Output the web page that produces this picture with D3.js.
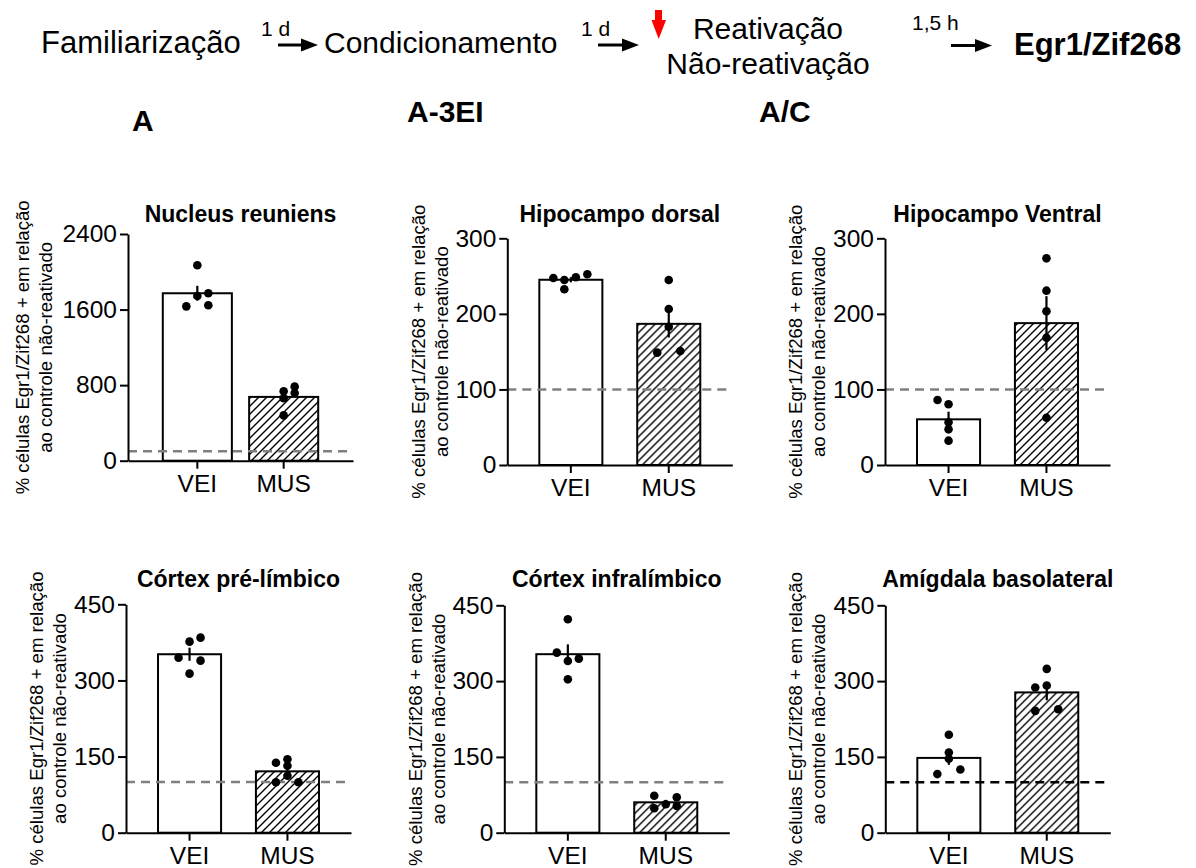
<!DOCTYPE html>
<html>
<head>
<meta charset="utf-8">
<script src="https://cdn.jsdelivr.net/npm/d3@7"></script>
<style>
  body { margin: 0; background: #fff; }
  svg { display: block; }
  text { font-family: "Liberation Sans", Arial, sans-serif; fill: #000; }
</style>
</head>
<body>
<svg id="chart" width="1196" height="868"></svg>
<script>
// ---- data ----
const groups = ["VEI", "MUS"];
const regions = ["Nucleus reuniens", "Hipocampo dorsal", "Hipocampo Ventral",
                 "Córtex pré-límbico", "Córtex infralímbico", "Amígdala basolateral"];
const yMax = [2400, 300, 300, 450, 450, 450];
const yTicks = [
  [0, 800, 1600, 2400], [0, 100, 200, 300], [0, 100, 200, 300],
  [0, 150, 300, 450], [0, 150, 300, 450], [0, 150, 300, 450]
];
const veiValues = [
  [2069, 1634, 1772, 1743, 1645],
  [247.5, 244.9, 248.4, 252.4, 232.5],
  [86, 80.3, 56.5, 47.2, 32.2],
  [376.4, 384.3, 344.9, 339, 313.4],
  [422.3, 356.3, 339.8, 344.4, 303.5],
  [193.7, 158.8, 146.3, 125.2, 116]
];
const musValues = [
  [735, 661, 784, 717, 480],
  [244.9, 206.5, 183, 148.7, 150.9],
  [273.5, 230.7, 203.4, 168.5, 62.6],
  [137.9, 144.6, 132, 99.3, 112.3, 99.3],
  [73.2, 48.3, 56.2, 70.1, 52.8],
  [324.2, 287.3, 291.2, 241.1, 244.4]
];
const controlLevel = 100; // não-reativado = 100 %

const yLabel1 = "% células Egr1/Zif268 + em relação";
const yLabel2 = "ao controle não-reativado";

// ---- layout (pixels) ----
const veiShift = [
  [0, -11, 11, 0, 11], [-17.5, -6.5, 5, 16.5, -6.5], [-11, 0, 0, 0, 0],
  [0, 11, -11, 11, 0], [0, -11, 0, 11, 0], [0, 0, 0, 11.5, -11.5]
];
const musShift = [
  [0, 0, 11, 11, 0], [0, 0, 0, -11.5, 11.5], [0, 0, 0, 0, 0],
  [-11.5, 0, 0, -11.5, 0, 11], [-11.5, -11.5, 0, 11, 11], [0, -11.5, 0, -11.5, 11.5]
];
const panels = [
  { ax: 128,   y0: 460.7, yt: 234,   pin: 0.2,   pout: 0.403, lab: -106, ty: 221.5, dash: "#808080" },
  { ax: 507.3, y0: 465,   yt: 238.3, pin: 0.356, pout: 0.327, lab: -89,  ty: 221.5, dash: "#808080" },
  { ax: 885,   y0: 465,   yt: 238.3, pin: 0.356, pout: 0.327, lab: -90,  ty: 221.5, dash: "#808080" },
  { ax: 126,   y0: 832.7, yt: 604.3, pin: 0.356, pout: 0.327, lab: -90,  ty: 586.5, dash: "#808080" },
  { ax: 504.3, y0: 832.7, yt: 605.3, pin: 0.356, pout: 0.327, lab: -89,  ty: 586.5, dash: "#808080" },
  { ax: 885.3, y0: 832.7, yt: 605.3, pin: 0.356, pout: 0.327, lab: -90,  ty: 586.5, dash: "#000000" }
];
const plotW = 225;

const svg = d3.select("#chart");

// hatch pattern for MUS bars
svg.append("defs").append("pattern")
  .attr("id", "hatch").attr("patternUnits", "userSpaceOnUse")
  .attr("width", 8).attr("height", 8)
  .append("path")
  .attr("d", "M0,8 L8,0 M-2,2 L2,-2 M6,10 L10,6")
  .attr("stroke", "#000").attr("stroke-width", 1.4);

// ---- header: protocol timeline ----
const head = svg.append("g");
function arrow(x1, x2, y) {
  head.append("line").attr("x1", x1).attr("x2", x2 - 14).attr("y1", y).attr("y2", y)
    .attr("stroke", "#000").attr("stroke-width", 3);
  head.append("path").attr("d", `M${x2 - 17},${y - 6.5} L${x2},${y} L${x2 - 17},${y + 6.5} Z`)
    .attr("fill", "#000");
}
head.append("text").attr("x", 41).attr("y", 53).style("font-size", "31px").text("Familiarização");
head.append("text").attr("x", 261).attr("y", 36).style("font-size", "21px").text("1 d");
arrow(278, 318, 45);
head.append("text").attr("x", 324).attr("y", 53).style("font-size", "30px").text("Condicionamento");
head.append("text").attr("x", 581).attr("y", 36).style("font-size", "21px").text("1 d");
arrow(598, 639, 45);
head.append("rect").attr("x", 655).attr("y", 10).attr("width", 7).attr("height", 11).attr("fill", "#ff0000");
head.append("path").attr("d", "M651.5,20 L666,20 L658.7,39 Z").attr("fill", "#ff0000");
head.append("text").attr("x", 768).attr("y", 39).attr("text-anchor", "middle").style("font-size", "30px").text("Reativação");
head.append("text").attr("x", 768).attr("y", 74).attr("text-anchor", "middle").style("font-size", "30px").text("Não-reativação");
head.append("text").attr("x", 912).attr("y", 30).style("font-size", "21px").text("1,5 h");
arrow(951, 992, 45.5);
head.append("text").attr("x", 1014).attr("y", 55).style("font-size", "31px").style("font-weight", "bold").text("Egr1/Zif268");
head.append("text").attr("x", 132).attr("y", 131).style("font-size", "30px").style("font-weight", "bold").text("A");
head.append("text").attr("x", 407).attr("y", 121.5).style("font-size", "30px").style("font-weight", "bold").text("A-3EI");
head.append("text").attr("x", 759).attr("y", 121.5).style("font-size", "30px").style("font-weight", "bold").text("A/C");

// ---- panels ----
panels.forEach(function (p, i) {
  const g = svg.append("g").attr("transform", "translate(" + p.ax + ",0)");

  const x = d3.scaleBand().domain(groups).range([0, plotW])
    .paddingInner(p.pin).paddingOuter(p.pout);
  const y = d3.scaleLinear().domain([0, yMax[i]]).range([p.y0, p.yt]);

  const sets = [
    { name: "VEI", vals: veiValues[i], shift: veiShift[i], fill: "#fff" },
    { name: "MUS", vals: musValues[i], shift: musShift[i], fill: "url(#hatch)" }
  ];
  sets.forEach(function (s) {
    s.mean = d3.mean(s.vals);
    s.sem = d3.deviation(s.vals) / Math.sqrt(s.vals.length);
  });

  // bars
  g.selectAll("rect.bar").data(sets).enter().append("rect")
    .attr("class", "bar")
    .attr("x", d => x(d.name))
    .attr("width", x.bandwidth())
    .attr("y", d => y(d.mean))
    .attr("height", d => y(0) - y(d.mean))
    .attr("fill", d => d.fill)
    .attr("stroke", "#000").attr("stroke-width", 2);

  // reference line at 100 %
  g.append("line")
    .attr("x1", 0).attr("x2", plotW)
    .attr("y1", y(controlLevel)).attr("y2", y(controlLevel))
    .attr("stroke", p.dash).attr("stroke-width", 2.5).attr("stroke-dasharray", "9,6");

  // error bars (mean ± SEM)
  g.selectAll("line.err").data(sets).enter().append("line")
    .attr("class", "err")
    .attr("x1", d => x(d.name) + x.bandwidth() / 2)
    .attr("x2", d => x(d.name) + x.bandwidth() / 2)
    .attr("y1", d => y(d.mean - d.sem))
    .attr("y2", d => y(d.mean + d.sem))
    .attr("stroke", "#000").attr("stroke-width", 2.2);

  // individual animals
  sets.forEach(function (s) {
    g.selectAll(null).data(s.vals).enter().append("circle")
      .attr("cx", (d, j) => x(s.name) + x.bandwidth() / 2 + s.shift[j])
      .attr("cy", d => y(d))
      .attr("r", 4.3)
      .attr("fill", "#000");
  });

  // axes
  const yAxis = g.append("g")
    .call(d3.axisLeft(y).tickValues(yTicks[i]).tickFormat(d3.format("d"))
      .tickSize(8).tickSizeOuter(0).tickPadding(3));
  const xAxis = g.append("g").attr("transform", "translate(0," + p.y0 + ")")
    .call(d3.axisBottom(x).tickSize(8).tickSizeOuter(0).tickPadding(6));
  [yAxis, xAxis].forEach(function (a) {
    a.select(".domain").attr("stroke", "#000").attr("stroke-width", 2);
    a.selectAll(".tick line").attr("stroke", "#000").attr("stroke-width", 2);
    a.selectAll(".tick text").style("font-size", "24.5px")
      .style("font-family", "'Liberation Sans', Arial, sans-serif").attr("fill", "#000");
  });

  // title
  g.append("text")
    .attr("x", plotW / 2).attr("y", p.ty)
    .attr("text-anchor", "middle")
    .style("font-size", "23px").style("font-weight", "bold")
    .text(regions[i]);

  // y label (two lines)
  const cy = (p.y0 + p.yt) / 2;
  [yLabel1, yLabel2].forEach(function (t, k) {
    g.append("text")
      .attr("transform", "translate(" + (p.lab + 6.5 + k * 23) + "," + cy + ") rotate(-90)")
      .attr("text-anchor", "middle")
      .style("font-size", "18.6px")
      .text(t);
  });
});
</script>
</body>
</html>
